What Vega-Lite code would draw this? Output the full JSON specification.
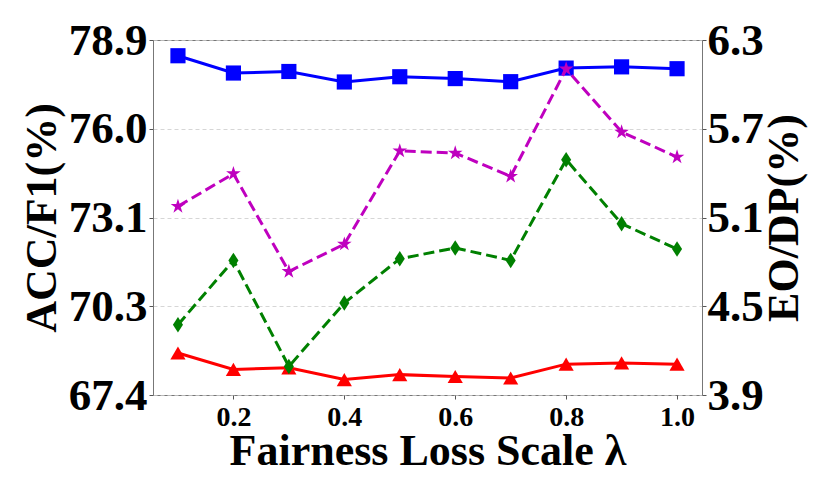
{
  "$schema": "https://vega.github.io/schema/vega-lite/v6.json",
  "autosize": {"type": "none"},
  "width": 549,
  "height": 355,
  "padding": {"left": 153, "top": 40, "right": 129, "bottom": 98},
  "background": "white",
  "config": {
    "view": {"stroke": "#777777", "strokeWidth": 1},
    "axis": {
      "labelFont": "Liberation Serif",
      "titleFont": "Liberation Serif",
      "labelFontWeight": "bold",
      "titleFontWeight": "bold",
      "labelColor": "black",
      "titleColor": "black",
      "domain": false,
      "tickColor": "#555555",
      "tickSize": 4,
      "labelLimit": 300
    }
  },
  "data": {
    "values": [
      {"lambda": 0.1, "metric": "ACC", "side": "L", "value": 78.39},
      {"lambda": 0.2, "metric": "ACC", "side": "L", "value": 77.83},
      {"lambda": 0.3, "metric": "ACC", "side": "L", "value": 77.88},
      {"lambda": 0.4, "metric": "ACC", "side": "L", "value": 77.54},
      {"lambda": 0.5, "metric": "ACC", "side": "L", "value": 77.71},
      {"lambda": 0.6, "metric": "ACC", "side": "L", "value": 77.65},
      {"lambda": 0.7, "metric": "ACC", "side": "L", "value": 77.55},
      {"lambda": 0.8, "metric": "ACC", "side": "L", "value": 77.99},
      {"lambda": 0.9, "metric": "ACC", "side": "L", "value": 78.03},
      {"lambda": 1.0, "metric": "ACC", "side": "L", "value": 77.97},
      {"lambda": 0.1, "metric": "F1", "side": "L", "value": 68.76},
      {"lambda": 0.2, "metric": "F1", "side": "L", "value": 68.23},
      {"lambda": 0.3, "metric": "F1", "side": "L", "value": 68.28},
      {"lambda": 0.4, "metric": "F1", "side": "L", "value": 67.9},
      {"lambda": 0.5, "metric": "F1", "side": "L", "value": 68.06},
      {"lambda": 0.6, "metric": "F1", "side": "L", "value": 68.0},
      {"lambda": 0.7, "metric": "F1", "side": "L", "value": 67.95},
      {"lambda": 0.8, "metric": "F1", "side": "L", "value": 68.4},
      {"lambda": 0.9, "metric": "F1", "side": "L", "value": 68.44},
      {"lambda": 1.0, "metric": "F1", "side": "L", "value": 68.4},
      {"lambda": 0.1, "metric": "EO", "side": "R", "value": 5.175},
      {"lambda": 0.2, "metric": "EO", "side": "R", "value": 5.396},
      {"lambda": 0.3, "metric": "EO", "side": "R", "value": 4.735},
      {"lambda": 0.4, "metric": "EO", "side": "R", "value": 4.92},
      {"lambda": 0.5, "metric": "EO", "side": "R", "value": 5.55},
      {"lambda": 0.6, "metric": "EO", "side": "R", "value": 5.536},
      {"lambda": 0.7, "metric": "EO", "side": "R", "value": 5.378},
      {"lambda": 0.8, "metric": "EO", "side": "R", "value": 6.104},
      {"lambda": 0.9, "metric": "EO", "side": "R", "value": 5.678},
      {"lambda": 1.0, "metric": "EO", "side": "R", "value": 5.509},
      {"lambda": 0.1, "metric": "DP", "side": "R", "value": 4.375},
      {"lambda": 0.2, "metric": "DP", "side": "R", "value": 4.81},
      {"lambda": 0.3, "metric": "DP", "side": "R", "value": 4.093},
      {"lambda": 0.4, "metric": "DP", "side": "R", "value": 4.522},
      {"lambda": 0.5, "metric": "DP", "side": "R", "value": 4.821},
      {"lambda": 0.6, "metric": "DP", "side": "R", "value": 4.894},
      {"lambda": 0.7, "metric": "DP", "side": "R", "value": 4.81},
      {"lambda": 0.8, "metric": "DP", "side": "R", "value": 5.491},
      {"lambda": 0.9, "metric": "DP", "side": "R", "value": 5.058},
      {"lambda": 1.0, "metric": "DP", "side": "R", "value": 4.887}
    ]
  },
  "encoding": {
    "x": {
      "field": "lambda",
      "type": "quantitative",
      "scale": {"domain": [0.055, 1.045], "nice": false, "zero": false},
      "axis": {
        "values": [0.2, 0.4, 0.6, 0.8, 1.0],
        "format": ".1f",
        "grid": false,
        "labelFontSize": 28,
        "labelPadding": 4,
        "title": "Fairness Loss Scale λ",
        "titleFontSize": 44,
        "titlePadding": -2
      }
    },
    "color": {
      "field": "metric",
      "type": "nominal",
      "scale": {"domain": ["ACC", "F1", "EO", "DP"], "range": ["#0000ff", "#ff0000", "#bf00bf", "#008000"]},
      "legend": null
    }
  },
  "layer": [
    {
      "transform": [{"filter": "datum.side == 'L'"}],
      "encoding": {
        "y": {
          "field": "value",
          "type": "quantitative",
          "scale": {"domain": [67.4, 78.9], "nice": false, "zero": false},
          "axis": {
            "orient": "left",
            "values": [67.4, 70.275, 73.15, 76.025, 78.9],
            "labelExpr": "['67.4','70.3','73.1','76.0','78.9'][round(datum.index*4)]",
            "labelFontSize": 45,
            "labelPadding": 2,
            "grid": true,
            "gridColor": "#cccccc",
            "gridDash": [4, 3],
            "gridWidth": 0.8,
            "title": "ACC/F1(%)",
            "titleFontSize": 44,
            "titlePadding": 4
          }
        }
      },
      "layer": [
        {"mark": {"type": "line", "strokeWidth": 3}, "encoding": {"detail": {"field": "metric"}}},
        {
          "mark": {"type": "point", "filled": true, "opacity": 1},
          "encoding": {
            "shape": {
              "field": "metric",
              "type": "nominal",
              "scale": {"domain": ["ACC", "F1", "EO", "DP"], "range": ["square", "triangle-up", "M0,-1L0.2245,-0.309L0.951,-0.309L0.363,0.118L0.588,0.809L0,0.382L-0.588,0.809L-0.363,0.118L-0.951,-0.309L-0.2245,-0.309Z", "M0,-1L0.65,0L0,1L-0.65,0Z"]},
              "legend": null
            },
            "size": {"value": 230}
          }
        }
      ]
    },
    {
      "transform": [{"filter": "datum.side == 'R'"}],
      "encoding": {
        "y": {
          "field": "value",
          "type": "quantitative",
          "scale": {"domain": [3.9, 6.3], "nice": false, "zero": false},
          "axis": {
            "orient": "right",
            "values": [3.9, 4.5, 5.1, 5.7, 6.3],
            "format": ".1f",
            "labelFontSize": 45,
            "labelPadding": 1,
            "grid": false,
            "title": "EO/DP(%)",
            "titleFontSize": 44,
            "titleAngle": 270,
            "titleBaseline": "top",
            "titlePadding": -1
          }
        }
      },
      "layer": [
        {"mark": {"type": "line", "strokeWidth": 3, "strokeDash": [11, 5]}, "encoding": {"detail": {"field": "metric"}}},
        {
          "mark": {"type": "point", "filled": true, "opacity": 1},
          "encoding": {
            "shape": {
              "field": "metric",
              "type": "nominal",
              "scale": {"domain": ["ACC", "F1", "EO", "DP"], "range": ["square", "triangle-up", "M0,-1L0.2245,-0.309L0.951,-0.309L0.363,0.118L0.588,0.809L0,0.382L-0.588,0.809L-0.363,0.118L-0.951,-0.309L-0.2245,-0.309Z", "M0,-1L0.65,0L0,1L-0.65,0Z"]},
              "legend": null
            },
            "size": {
              "field": "metric",
              "type": "nominal",
              "scale": {"domain": ["ACC", "F1", "EO", "DP"], "range": [230, 240, 200, 330]},
              "legend": null
            }
          }
        }
      ]
    }
  ],
  "resolve": {"scale": {"y": "independent"}}
}
